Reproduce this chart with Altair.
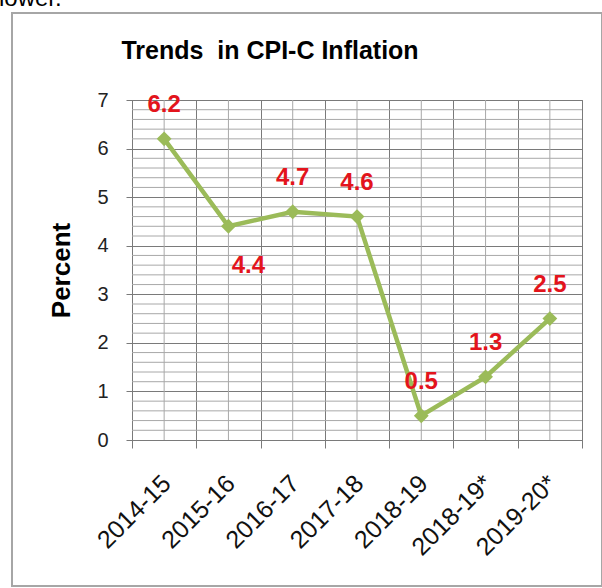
import altair as alt
import pandas as pd

categories = ["2014-15", "2015-16", "2016-17", "2017-18", "2018-19", "2018-19*", "2019-20*"]
inflation = [6.2, 4.4, 4.7, 4.6, 0.5, 1.3, 2.5]
y_ticks = [0, 1, 2, 3, 4, 5, 6, 7]
minor_steps = [i / 5 for i in range(36) if i % 5 != 0]

df = pd.DataFrame({"year": categories, "value": inflation})
df["label"] = [f"{v:.1f}" for v in inflation]
minor_df = pd.DataFrame({"y": minor_steps})
one = pd.DataFrame({"a": [0]})

GREEN = "#9BBB59"
RED = "#E3141C"
MAJOR = "#7A7A7A"
MINOR = "#A8A8A8"
FONT = "Liberation Sans"

xscale = alt.Scale(type="band", domain=categories, paddingInner=0, paddingOuter=0)
yscale = alt.Scale(domain=[0, 7], nice=False, zero=True)

x_enc = alt.X(
    "year:N", scale=xscale, sort=categories,
    axis=alt.Axis(
        title=None, tickBand="extent", grid=True, gridColor=MAJOR, gridWidth=1,
        domainColor=MAJOR, tickColor=MAJOR, tickSize=8,
        labelAngle=315, labelAlign="right", labelBaseline="middle",
        labelPadding=31, labelOffset=2, labelFont=FONT, labelFontSize=25,
        labelColor="#111111",
    ),
)
y_enc = alt.Y(
    "value:Q", scale=yscale,
    axis=alt.Axis(
        title="Percent", values=y_ticks, grid=True, gridColor=MAJOR, gridWidth=1,
        domainColor=MAJOR, tickColor=MAJOR, tickSize=6, labelPadding=18,
        labelFont=FONT, labelFontSize=20, labelColor="#222222",
        titleFont=FONT, titleFontSize=26, titleFontWeight="bold", titleColor="#000000",
        titlePadding=22,
    ),
)

minor_h = alt.Chart(minor_df).mark_rule(color=MINOR, strokeWidth=1).encode(
    y=alt.Y("y:Q", scale=yscale)
)
minor_v = alt.Chart(df).mark_rule(color=MINOR, strokeWidth=1).encode(
    x=alt.X("year:N", scale=xscale, sort=categories)
)

base = alt.Chart(df).encode(x=x_enc, y=y_enc)
line = base.mark_line(color=GREEN, strokeWidth=4.5)
points = base.mark_point(shape="diamond", filled=True, size=220, color=GREEN, opacity=1)

labels_above = base.transform_filter(alt.datum.year != "2015-16").mark_text(
    color=RED, font=FONT, fontSize=24, fontWeight="bold", dy=-34, baseline="middle"
).encode(text="label:N")
labels_below = base.transform_filter(alt.datum.year == "2015-16").mark_text(
    color=RED, font=FONT, fontSize=24, fontWeight="bold", dy=40, dx=20, baseline="middle"
).encode(text="label:N")

title = alt.Chart(one).mark_text(
    text="Trends\u00a0 in CPI-C Inflation", font=FONT, fontSize=25, fontWeight="bold",
    color="#000000", align="center", baseline="middle"
).encode(x=alt.value(138), y=alt.value(-49))

cut_text = alt.Chart(one).mark_text(
    text="lower.", font=FONT, fontSize=24, color="#000000", align="left",
    baseline="alphabetic"
).encode(x=alt.value(-133), y=alt.value(-94))

frame = alt.Chart(one).mark_rect(fillOpacity=0, stroke="#A6A6A6", strokeWidth=2).encode(
    x=alt.value(-120), x2=alt.value(470), y=alt.value(-87), y2=alt.value(486)
)

chart = alt.layer(
    minor_h, minor_v, line, points, labels_above, labels_below, title, cut_text, frame
).properties(
    width=450, height=340,
    autosize=alt.AutoSizeParams(type="none"),
    padding={"left": 132, "top": 100, "right": 20, "bottom": 148},
    background="white",
).configure_view(stroke=MAJOR, strokeWidth=1)

chart.save("out.html", embed_options={"renderer": "svg", "actions": False})
